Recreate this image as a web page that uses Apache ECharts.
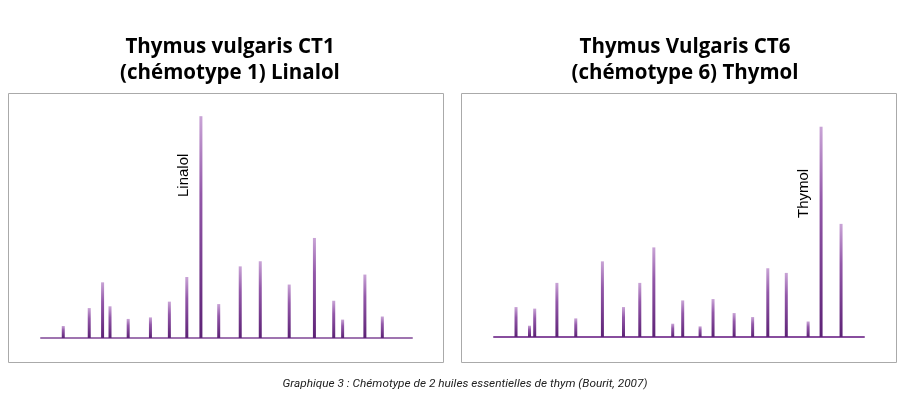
<!DOCTYPE html>
<html>
<head>
<meta charset="utf-8">
<script src="https://cdn.jsdelivr.net/npm/echarts@6/dist/echarts.min.js"></script>
<style>html,body{margin:0;padding:0;background:#fff;}#chart{width:903px;height:417px;}</style>
</head>
<body>
<div id="chart"></div>
<script>
// Retention position (0-100 scale) and relative intensity of each peak
const ct1Times = [6.0, 13.0, 16.6, 18.6, 23.5, 29.5, 34.6, 39.3, 43.1, 47.9, 53.7, 59.1, 66.9, 73.7, 78.9, 81.3, 87.3, 92.0];
const ct1Heights = [5.4, 13.5, 25.1, 14.3, 8.6, 9.3, 16.4, 27.5, 100, 15.3, 32.3, 34.6, 24.1, 45.1, 16.8, 8.3, 28.6, 9.7];
const ct6Times = [5.95, 9.6, 11.0, 17.0, 22.1, 29.3, 35.0, 39.4, 43.2, 48.3, 51.0, 55.7, 59.2, 64.9, 69.9, 74.0, 79.0, 84.9, 88.4, 93.8];
const ct6Heights = [13.5, 5.1, 12.8, 24.4, 8.4, 34.1, 13.5, 24.4, 40.4, 6.0, 16.5, 4.8, 17.1, 10.8, 9.0, 31.0, 28.9, 7.0, 94.8, 51.0];
const titles = ['Thymus vulgaris CT1\n(chémotype 1) Linalol', 'Thymus Vulgaris CT6\n(chémotype 6) Thymol'];
const peakLabels = ['Linalol', 'Thymol'];
const caption = 'Graphique 3 : Chémotype de 2 huiles essentielles de thym (Bourit, 2007)';

const chart = echarts.init(document.getElementById('chart'), null, {renderer: 'canvas'});
const peakColor = new echarts.graphic.LinearGradient(0, 0, 0, 1, [
  {offset: 0, color: '#c9a4d6'},
  {offset: 0.35, color: '#9358a9'},
  {offset: 1, color: '#5c2175'}
]);
function pairs(xs, ys) { return xs.map((x, i) => [x, ys[i]]); }
const titleStyle = {fontFamily: 'Open Sans', fontWeight: 'bold', fontSize: 20.5, lineHeight: 26, color: '#000'};
const xAx = (idx, col) => ({type: 'value', gridIndex: idx, min: 0, max: 100,
  axisLine: {show: true, lineStyle: {color: col, width: 2}}, axisTick: {show: false},
  axisLabel: {show: false}, splitLine: {show: false}});
const yAx = idx => ({type: 'value', gridIndex: idx, min: 0, max: 110, show: false, splitLine: {show: false}});

chart.setOption({
  animation: false,
  title: [
    {text: titles[0], left: 225, top: 29, textAlign: 'center', textStyle: titleStyle},
    {text: titles[1], left: 680, top: 29, textAlign: 'center', textStyle: titleStyle}
  ],
  grid: [
    {left: 41, right: 491, top: 94, bottom: 79},
    {left: 494, right: 39, top: 93, bottom: 80}
  ],
  xAxis: [xAx(0, '#9f74b0'), xAx(1, '#884e9e')],
  yAxis: [yAx(0), yAx(1)],
  series: [
    {type: 'bar', xAxisIndex: 0, yAxisIndex: 0, barWidth: 3, data: pairs(ct1Times, ct1Heights),
     itemStyle: {color: peakColor}},
    {type: 'bar', xAxisIndex: 1, yAxisIndex: 1, barWidth: 3, data: pairs(ct6Times, ct6Heights),
     itemStyle: {color: peakColor}}
  ],
  graphic: [
    {type: 'rect', shape: {x: 8.5, y: 93.5, width: 435, height: 269}, style: {fill: 'none', stroke: '#aaaaaa', lineWidth: 1}, silent: true},
    {type: 'rect', shape: {x: 461.5, y: 93.5, width: 435, height: 269}, style: {fill: 'none', stroke: '#aaaaaa', lineWidth: 1}, silent: true},
    {type: 'text', x: 191, y: 197, rotation: Math.PI / 2,
     style: {text: peakLabels[0], fontFamily: 'Liberation Sans', fontSize: 15, fill: '#000', textAlign: 'left', textVerticalAlign: 'bottom'}},
    {type: 'text', x: 811, y: 218, rotation: Math.PI / 2,
     style: {text: peakLabels[1], fontFamily: 'Liberation Sans', fontSize: 15, fill: '#000', textAlign: 'left', textVerticalAlign: 'bottom'}},
    {type: 'text', x: 465, y: 384,
     style: {text: caption, fontFamily: 'Roboto', fontStyle: 'italic', fontSize: 11.8, fill: '#222', textAlign: 'center', textVerticalAlign: 'middle'}}
  ]
});
</script>
</body>
</html>
